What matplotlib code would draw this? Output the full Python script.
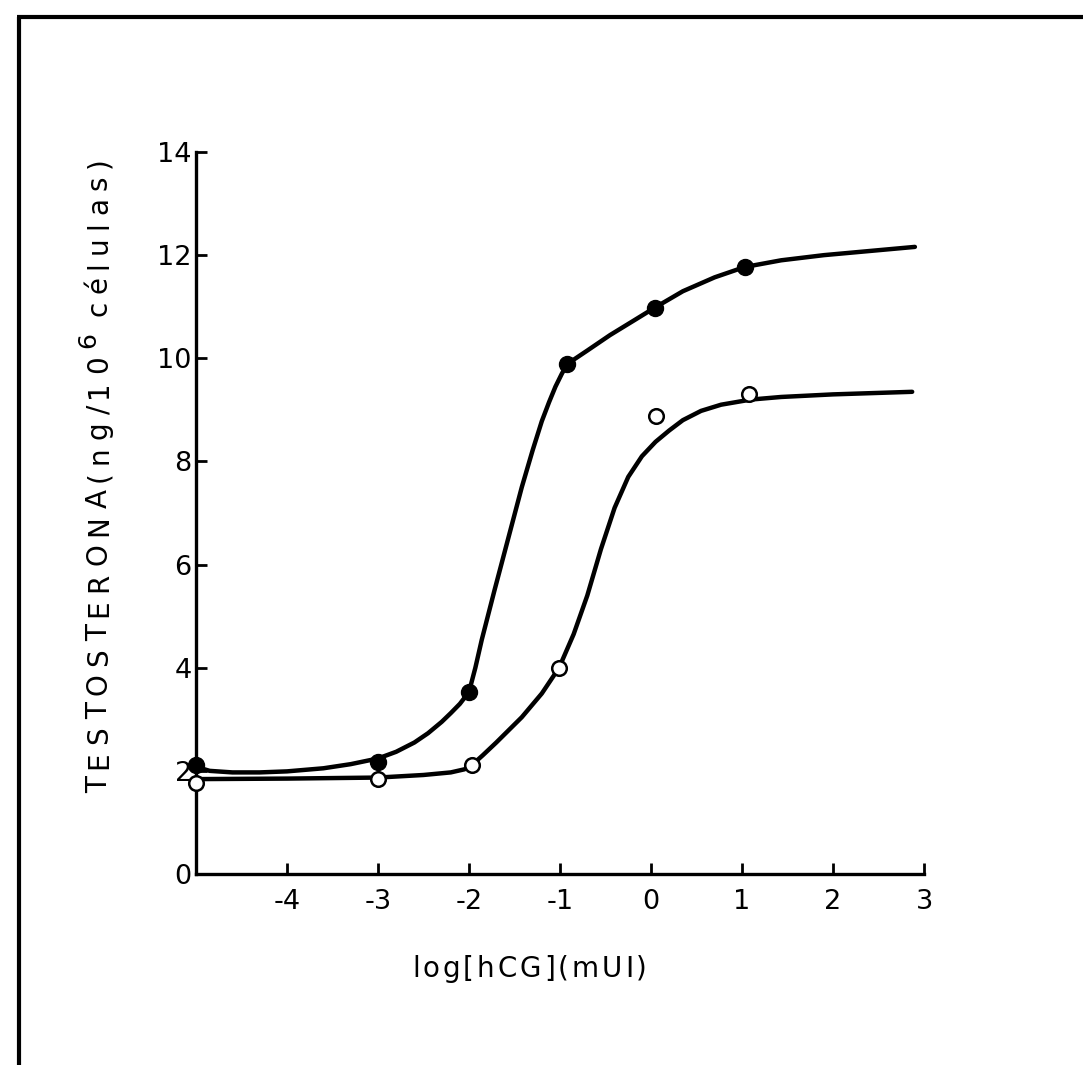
import matplotlib
matplotlib.use("Agg")
import matplotlib.pyplot as plt
from matplotlib.lines import Line2D
from matplotlib.transforms import IdentityTransform

# Measured testosterone response (ng / 10^6 cells) versus log hCG dose (mUI)
dose_filled = [-5.0, -3.0, -2.0, -0.92, 0.04, 1.03]
testo_filled = [2.11, 2.17, 3.53, 9.89, 10.98, 11.77]
dose_open = [-5.0, -3.0, -1.97, -1.01, 0.06, 1.08]
testo_open = [1.76, 1.84, 2.11, 3.99, 8.88, 9.31]

# Hand-fitted response curves
curve_filled_x = [-5.0, -4.85, -4.6, -4.3, -4.0, -3.6, -3.3, -3.0, -2.8, -2.6, -2.45,
                  -2.3, -2.2, -2.1, -2.0, -1.93, -1.86, -1.72, -1.57, -1.42, -1.3,
                  -1.2, -1.12, -1.05, -0.98, -0.92, -0.7, -0.45, -0.2, 0.04, 0.35,
                  0.7, 1.03, 1.43, 1.9, 2.4, 2.9]
curve_filled_y = [2.08, 2.0, 1.97, 1.97, 1.99, 2.05, 2.13, 2.24, 2.37, 2.55, 2.73,
                  2.95, 3.12, 3.3, 3.53, 4.0, 4.54, 5.5, 6.5, 7.5, 8.22,
                  8.78, 9.15, 9.45, 9.7, 9.89, 10.15, 10.45, 10.72, 10.98, 11.3,
                  11.57, 11.77, 11.9, 12.0, 12.08, 12.16]
curve_open_x = [-5.0, -4.0, -3.0, -2.5, -2.2, -2.05, -1.97, -1.85, -1.7, -1.42,
                -1.2, -1.01, -0.85, -0.7, -0.55, -0.4, -0.25, -0.1, 0.05, 0.2,
                0.35, 0.55, 0.77, 1.1, 1.43, 2.0, 2.87]
curve_open_y = [1.84, 1.85, 1.87, 1.92, 1.97, 2.03, 2.11, 2.3, 2.55, 3.04,
                3.5, 4.0, 4.65, 5.4, 6.3, 7.1, 7.7, 8.1, 8.38, 8.6,
                8.8, 8.98, 9.1, 9.2, 9.25, 9.3, 9.35]

x_ticks = [-4, -3, -2, -1, 0, 1, 2, 3]
x_ticklabels = ["-4", "-3", "-2", "-1", "0", "1", "2", "3"]
y_ticks = [0, 2, 4, 6, 8, 10, 12, 14]
y_ticklabels = ["0", "2", "4", "6", "8", "10", "12", "14"]
x_label = "log[hCG](mUI)"
y_label_pieces = [("TESTOSTERONA(ng/10", 1.0, 0.0), ("6", 0.9, 0.6), (" células)", 1.0, 0.0)]

W, H = 1083, 1065
fig = plt.figure(figsize=(W / 100, H / 100), dpi=100)
fig.patch.set_facecolor("white")

ax_left, ax_right, ax_bottom, ax_top = 196, 924, 874, 152
ax = fig.add_axes([ax_left / W, 1 - ax_bottom / H, (ax_right - ax_left) / W, (ax_bottom - ax_top) / H])
ax.set_xlim(-5, 3)
ax.set_ylim(0, 14)
for side in ("top", "right"):
    ax.spines[side].set_visible(False)
for side in ("left", "bottom"):
    ax.spines[side].set_linewidth(2.4)
    ax.spines[side].set_color("black")
    ax.spines[side].set_capstyle("projecting")

tick_family = ["DejaVu Sans"]
ax.set_xticks(x_ticks)
ax.set_xticklabels(x_ticklabels, fontsize=19.5, family=tick_family)
ax.set_yticks(y_ticks)
ax.set_yticklabels(y_ticklabels, fontsize=19.5, family=tick_family)
ax.tick_params(axis="x", direction="in", length=8, width=2.0, pad=11)
ax.tick_params(axis="y", direction="in", length=8, width=2.0, pad=3)

line_kw = dict(color="black", lw=3.2, solid_capstyle="round", solid_joinstyle="round", zorder=3)
ax.plot(curve_filled_x, curve_filled_y, clip_on=False, **line_kw)
ax.plot(curve_open_x, curve_open_y, clip_on=False, **line_kw)
ax.plot(dose_filled, testo_filled, "o", ms=11.5, mfc="black", mec="black", mew=1.0,
        clip_on=False, zorder=5)
ax.plot(dose_open, testo_open, "o", ms=10.5, mfc="white", mec="black", mew=1.8,
        clip_on=False, zorder=5)

# Frame lines along the top and left edge of the page
fig.add_artist(Line2D([17.0 / W, 1.0], [1 - 16.5 / H, 1 - 16.5 / H], color="black", lw=3.0,
                      solid_capstyle="butt"))
fig.add_artist(Line2D([18.5 / W, 18.5 / W], [1 - 16.5 / H, 0.0], color="black", lw=3.0,
                      solid_capstyle="butt"))


def tracked_text(pieces, start, end, baseline, size, vertical=False, family="DejaVu Sans"):
    """Place characters one by one with extra letter spacing so the run spans start..end pixels."""
    renderer = fig.canvas.get_renderer()

    def ink_width(s, fs):
        t = fig.text(0, 0, s, fontsize=fs, family=family)
        w = t.get_window_extent(renderer).width
        t.remove()
        return w

    glyphs = []
    for text, scale, rise in pieces:
        fs = size * scale
        bar = ink_width("|", fs)
        for ch in text:
            adv = ink_width(ch + "|", fs) - bar
            glyphs.append((ch, fs, rise, adv))
    # last glyph contributes only its ink width; spaces get no extra tracking
    last = glyphs[-1]
    total = sum(g[3] for g in glyphs[:-1]) + ink_width(last[0], last[1])
    n_gaps = sum(1 for g in glyphs[:-1] if g[0] != " ")
    gap = (end - start - total) / n_gaps
    cap = 0.73 * size * fig.dpi / 72.0
    pos = start
    for ch, fs, rise, adv in glyphs:
        if ch != " ":
            off = rise * cap
            if vertical:
                fig.text(baseline - off, pos, ch, fontsize=fs, family=family, rotation=90,
                         rotation_mode="anchor", ha="left", va="baseline",
                         transform=IdentityTransform())
            else:
                fig.text(pos, baseline + off, ch, fontsize=fs, family=family,
                         ha="left", va="baseline", transform=IdentityTransform())
            pos += adv + gap
        else:
            pos += adv


tracked_text([(x_label, 1.0, 0.0)], 412, 647, H - 977, 20)
tracked_text(y_label_pieces, H - 793, H - 157, 107, 20, vertical=True)

fig.savefig("out.png", dpi=100, facecolor="white")
